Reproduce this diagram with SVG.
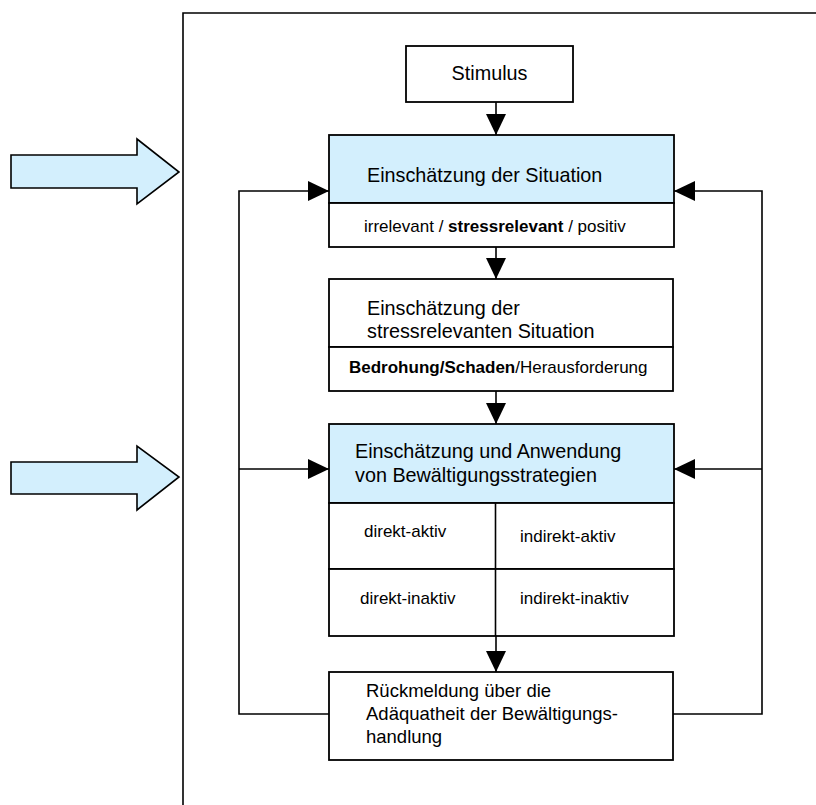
<svg xmlns="http://www.w3.org/2000/svg" width="816" height="805" viewBox="0 0 816 805">
<style>
text { font-family: "Liberation Sans", Arial, sans-serif; fill: #000; }
.big { font-size: 19.8px; }
.mid { font-size: 18.5px; }
.small { font-size: 17px; }
.b { font-weight: bold; }
.box { fill: #fff; stroke: #000; stroke-width: 1.8; }
.blue { fill: #D3EFFD; stroke: #000; stroke-width: 1.8; }
.ln { fill: none; stroke: #000; stroke-width: 1.6; }
.big-arrow { fill: #D3EFFD; stroke: #000; stroke-width: 1.6; stroke-linejoin: miter; }
</style>
<defs>
<marker id="ah" markerUnits="userSpaceOnUse" markerWidth="21" markerHeight="20" refX="21" refY="10" orient="auto">
<path d="M0,0 L21,10 L0,20 z" fill="#000"/>
</marker>
</defs>
<rect width="816" height="805" fill="#fff"/>

<g id="frame">
<path class="ln" d="M183,805 V13 H816"/>
</g>

<g id="input-arrow-1">
<polygon class="big-arrow" points="11,155 137,155 137,139 179,172 137,204 137,188 11,188"/>
</g>
<g id="input-arrow-2">
<polygon class="big-arrow" points="11,462 137,462 137,446 179,477 137,510 137,494 11,494"/>
</g>

<g id="connectors">
<path class="ln" d="M496,102 V135" marker-end="url(#ah)"/>
<path class="ln" d="M496,247 V279" marker-end="url(#ah)"/>
<path class="ln" d="M496,391 V424" marker-end="url(#ah)"/>
<path class="ln" d="M496,636 V672" marker-end="url(#ah)"/>
<path class="ln" d="M329,714 H239 V191 H329" marker-end="url(#ah)"/>
<path class="ln" d="M239,469 H329" marker-end="url(#ah)"/>
<path class="ln" d="M673,714 H762 V191 H674" marker-end="url(#ah)"/>
<path class="ln" d="M762,469 H674" marker-end="url(#ah)"/>
</g>

<g id="stimulus">
<rect class="box" x="406" y="46" width="167" height="56"/>
<text class="big" x="489.5" y="80" text-anchor="middle">Stimulus</text>
</g>

<g id="einschaetzung-situation">
<rect class="blue" x="329" y="135" width="345" height="68"/>
<rect class="box" x="329" y="203" width="345" height="44"/>
<text class="big" x="367" y="182">Einschätzung der Situation</text>
<text class="small" x="364" y="232">irrelevant / <tspan class="b">stressrelevant</tspan> / positiv</text>
</g>

<g id="einschaetzung-stressrelevant">
<rect class="box" x="329" y="279" width="344" height="68"/>
<rect class="box" x="329" y="347" width="344" height="44"/>
<text class="big" x="367" y="315">Einschätzung der</text>
<text class="big" x="367" y="338">stressrelevanten Situation</text>
<text class="small" x="349" y="373"><tspan class="b">Bedrohung/Schaden</tspan>/Herausforderung</text>
</g>

<g id="bewaeltigung">
<rect class="blue" x="329" y="424" width="345" height="79"/>
<rect class="box" x="329" y="503" width="345" height="66"/>
<rect class="box" x="329" y="569" width="345" height="67"/>
<path class="ln" d="M495.5,503 V636"/>
<text class="big" x="355" y="458">Einschätzung und Anwendung</text>
<text class="big" x="355" y="482">von Bewältigungsstrategien</text>
<text class="small" x="364" y="537">direkt-aktiv</text>
<text class="small" x="520" y="542">indirekt-aktiv</text>
<text class="small" x="360" y="604">direkt-inaktiv</text>
<text class="small" x="520" y="604">indirekt-inaktiv</text>
</g>

<g id="rueckmeldung">
<rect class="box" x="329" y="672" width="344" height="88"/>
<text class="mid" x="366" y="697">Rückmeldung über die</text>
<text class="mid" x="366" y="720">Adäquatheit der Bewältigungs-</text>
<text class="mid" x="366" y="743">handlung</text>
</g>
</svg>
